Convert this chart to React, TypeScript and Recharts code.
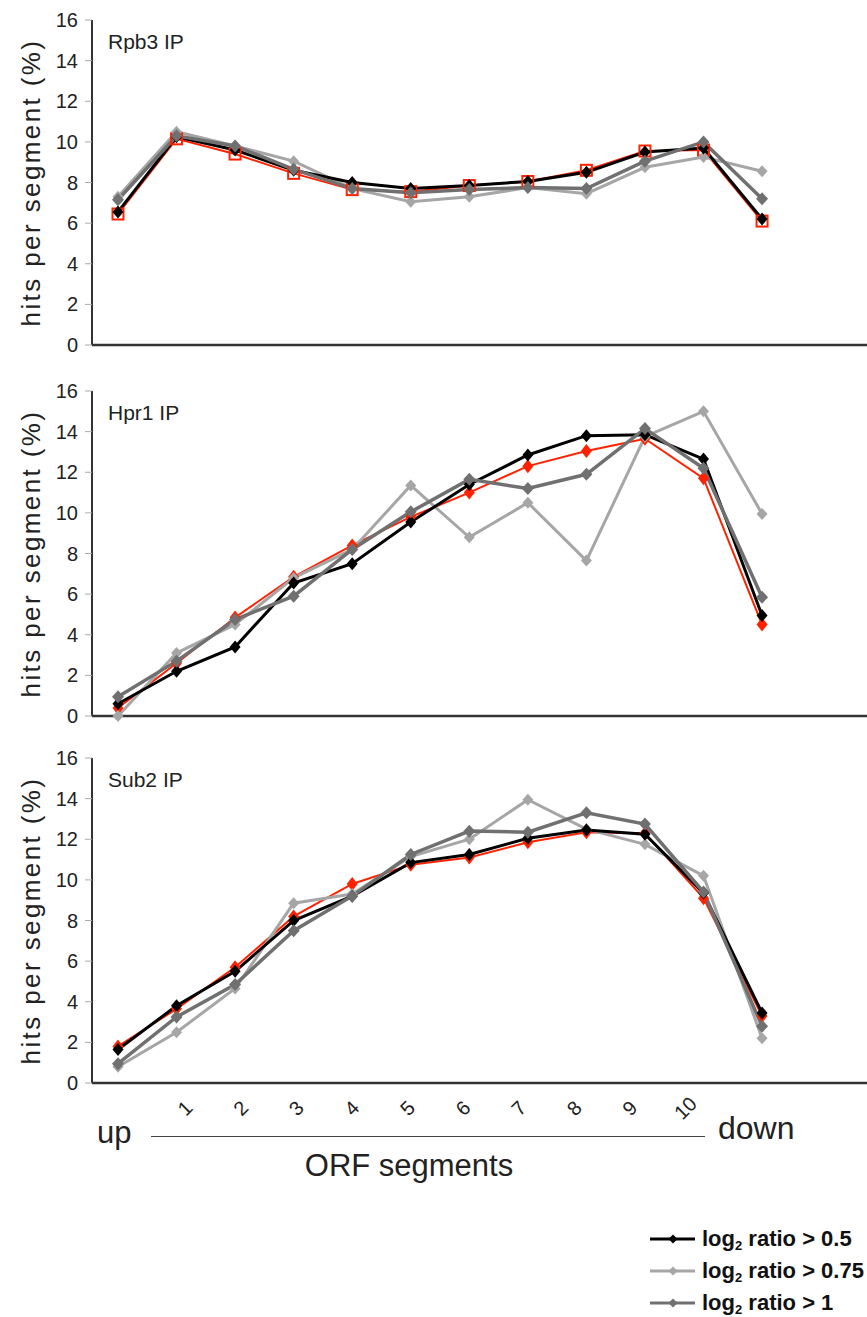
import React from 'react';
import { LineChart, Line, XAxis, YAxis } from 'recharts';

// ---------- data ----------
const segments = ['up', '1', '2', '3', '4', '5', '6', '7', '8', '9', '10', 'down'];
const segmentLabels = [1, 2, 3, 4, 5, 6, 7, 8, 9, 10];
const yTicks = [0, 2, 4, 6, 8, 10, 12, 14, 16];

const rpb3_05 = [6.55, 10.25, 9.6, 8.6, 8.0, 7.7, 7.85, 8.05, 8.5, 9.5, 9.7, 6.2];
const rpb3_075 = [7.3, 10.5, 9.8, 9.05, 7.7, 7.05, 7.3, 7.75, 7.45, 8.75, 9.25, 8.55];
const rpb3_1 = [7.15, 10.3, 9.8, 8.65, 7.7, 7.5, 7.65, 7.75, 7.7, 9.05, 10.0, 7.2];
const rpb3_red = [6.45, 10.15, 9.4, 8.45, 7.65, 7.55, 7.85, 8.05, 8.6, 9.55, 9.6, 6.1];

const hpr1_05 = [0.6, 2.2, 3.4, 6.55, 7.5, 9.55, 11.4, 12.85, 13.8, 13.85, 12.65, 4.95];
const hpr1_075 = [0.0, 3.1, 4.5, 6.8, 8.2, 11.35, 8.8, 10.5, 7.65, 13.75, 15.0, 9.95];
const hpr1_1 = [0.95, 2.7, 4.75, 5.9, 8.2, 10.05, 11.65, 11.2, 11.9, 14.15, 12.2, 5.85];
const hpr1_red = [0.4, 2.6, 4.85, 6.85, 8.4, 9.8, 11.0, 12.3, 13.05, 13.65, 11.7, 4.5];

const sub2_05 = [1.65, 3.8, 5.5, 8.0, 9.2, 10.85, 11.25, 12.05, 12.45, 12.25, 9.35, 3.45];
const sub2_075 = [0.8, 2.5, 4.65, 8.85, 9.3, 11.15, 12.0, 13.95, 12.5, 11.75, 10.2, 2.2];
const sub2_1 = [0.95, 3.25, 4.85, 7.5, 9.2, 11.25, 12.4, 12.35, 13.3, 12.75, 9.4, 2.8];
const sub2_red = [1.8, 3.65, 5.7, 8.2, 9.8, 10.75, 11.1, 11.85, 12.35, 12.3, 9.1, 3.3];

const legendItems = [
  { sub: '0.5', color: '#000000' },
  { sub: '0.75', color: '#a6a6a6' },
  { sub: '1', color: '#707070' },
];

// ---------- layout ----------
const W = 1000;
const X_DOMAIN: [number, number] = [-0.444, 15.064];
const xTicks = Array.from({ length: 12 }, (_, j) => -0.444 + 0.977 * j);
const LABEL_DOMAIN: [number, number] = [-0.673, 15.658];
const FONT = "'Liberation Sans', Arial, Helvetica, sans-serif";

const buildRows = (a: number[], b: number[], c: number[], r: number[]) =>
  segments.map((s, i) => ({ x: i, seg: s, s05: a[i], s075: b[i], s1: c[i], red: r[i] }));

const labelRows = segmentLabels.map((v) => ({ pos: v }));

const Diamond = (props: any) => {
  const { cx, cy, fill, hw, hh } = props;
  if (cx == null || cy == null) return null;
  return <path d={`M${cx},${cy - hh} L${cx + hw},${cy} L${cx},${cy + hh} L${cx - hw},${cy} Z`} fill={fill} />;
};

const Square = (props: any) => {
  const { cx, cy } = props;
  if (cx == null || cy == null) return null;
  return <rect x={cx - 5.5} y={cy - 5.5} width={11} height={11} fill="none" stroke="#ff2200" strokeWidth={2} />;
};

const RotTick = (props: any) => {
  const { x, payload } = props;
  const ty = 18;
  return (
    <text
      x={x}
      y={ty}
      transform={`rotate(-45 ${x} ${ty})`}
      textAnchor="middle"
      dominantBaseline="central"
      fontSize={20}
      fontFamily={FONT}
      fill="#222"
    >
      {payload.value}
    </text>
  );
};

const YTitle = (props: any) => {
  const vb = props.viewBox || {};
  const cx = 31;
  const cy = (vb.y || 0) + (vb.height || 0) / 2;
  return (
    <text
      x={cx}
      y={cy}
      transform={`rotate(-90 ${cx} ${cy})`}
      textAnchor="middle"
      dominantBaseline="central"
      fontSize={26}
      letterSpacing={2.4}
      fontFamily={FONT}
      fill="#222"
    >
      hits per segment (%)
    </text>
  );
};

type PanelProps = {
  top: number;
  title: string;
  rows: any[];
  redSquares?: boolean;
};

const Panel = ({ top, title, rows, redSquares }: PanelProps) => {
  const height = 355;
  return (
    <div style={{ position: 'absolute', left: 0, top, width: W, height }}>
      <LineChart width={W} height={height} data={rows} margin={{ top: 20, right: 0, bottom: 0, left: 0 }}>
        <XAxis
          xAxisId="top"
          orientation="top"
          type="number"
          dataKey="x"
          domain={X_DOMAIN}
          allowDataOverflow
          height={0}
          tick={false}
          tickLine={false}
          axisLine={{ stroke: '#333', strokeWidth: 2 }}
        />
        <XAxis
          xAxisId="main"
          type="number"
          dataKey="x"
          domain={X_DOMAIN}
          allowDataOverflow
          ticks={xTicks}
          interval={0}
          tick={false}
          tickSize={6}
          tickLine={{ stroke: '#aaa', strokeWidth: 1 }}
          axisLine={{ stroke: '#333', strokeWidth: 2.5 }}
          height={10}
        />
        <YAxis
          type="number"
          domain={[0, 16]}
          ticks={yTicks}
          interval={0}
          width={92}
          tickSize={7}
          tickMargin={7}
          tick={{ fontSize: 20, fill: '#222', fontFamily: FONT }}
          tickLine={{ stroke: '#aaa', strokeWidth: 1 }}
          axisLine={{ stroke: '#333', strokeWidth: 2 }}
          label={<YTitle />}
        />
        <Line
          xAxisId="main"
          dataKey="red"
          stroke="#ff2200"
          strokeWidth={2}
          isAnimationActive={false}
          dot={redSquares ? <Square /> : <Diamond fill="#ff2200" hw={5.5} hh={7} />}
          activeDot={false}
        />
        <Line
          xAxisId="main"
          dataKey="s075"
          stroke="#a6a6a6"
          strokeWidth={3}
          isAnimationActive={false}
          dot={<Diamond fill="#a6a6a6" hw={5.5} hh={6} />}
          activeDot={false}
        />
        <Line
          xAxisId="main"
          dataKey="s05"
          stroke="#000000"
          strokeWidth={3}
          isAnimationActive={false}
          dot={<Diamond fill="#000000" hw={5.5} hh={6.5} />}
          activeDot={false}
        />
        <Line
          xAxisId="main"
          dataKey="s1"
          stroke="#707070"
          strokeWidth={3.5}
          isAnimationActive={false}
          dot={<Diamond fill="#707070" hw={6} hh={6.5} />}
          activeDot={false}
        />
      </LineChart>
      <div
        style={{
          position: 'absolute',
          left: 108,
          top: 30,
          fontSize: 21,
          lineHeight: '24px',
          fontFamily: FONT,
          color: '#222',
        }}
      >
        {title}
      </div>
    </div>
  );
};

// Segment-number axis (1..10) below the bottom panel
const SegmentAxis = ({ top }: { top: number }) => (
  <div style={{ position: 'absolute', left: 0, top, width: W, height: 40 }}>
    <LineChart width={W} height={40} data={labelRows} margin={{ top: 0, right: 0, bottom: 0, left: 92 }}>
      <XAxis
        type="number"
        dataKey="pos"
        domain={LABEL_DOMAIN}
        allowDataOverflow
        ticks={segmentLabels}
        interval={0}
        tick={<RotTick />}
        tickLine={false}
        axisLine={false}
        orientation="top"
        height={40}
      />
    </LineChart>
  </div>
);

const Legend = () => (
  <div style={{ position: 'absolute', left: 650, top: 1223, fontFamily: FONT }}>
    {legendItems.map((it) => (
      <div key={it.sub} style={{ display: 'flex', alignItems: 'center', height: 32 }}>
        <svg width={50} height={16} style={{ display: 'block' }}>
          <line x1={0} y1={8} x2={45} y2={8} stroke={it.color} strokeWidth={3} />
          <path d="M23,3.5 L27.5,8 L23,12.5 L18.5,8 Z" fill={it.color} />
        </svg>
        <span style={{ fontWeight: 'bold', fontSize: 22, lineHeight: '26px', color: '#111', marginLeft: 2, whiteSpace: 'nowrap' }}>
          log<sub style={{ fontSize: 13, lineHeight: '10px', verticalAlign: '-4px' }}>2</sub> ratio &gt; {it.sub}
        </span>
      </div>
    ))}
  </div>
);

export default function App() {
  return (
    <div
      style={{
        position: 'absolute',
        left: 0,
        top: 0,
        width: 867,
        height: 1317,
        overflow: 'hidden',
        background: '#ffffff',
        fontFamily: FONT,
      }}
    >
      <Panel top={0} title="Rpb3 IP" rows={buildRows(rpb3_05, rpb3_075, rpb3_1, rpb3_red)} redSquares />
      <Panel top={371} title="Hpr1 IP" rows={buildRows(hpr1_05, hpr1_075, hpr1_1, hpr1_red)} />
      <Panel top={738} title="Sub2 IP" rows={buildRows(sub2_05, sub2_075, sub2_1, sub2_red)} />
      <SegmentAxis top={1090} />
      <div style={{ position: 'absolute', left: 97, top: 1115, fontSize: 31, lineHeight: '36px', color: '#222' }}>up</div>
      <div style={{ position: 'absolute', left: 151, top: 1136, width: 554, height: 0, borderTop: '1.5px solid #444' }} />
      <div style={{ position: 'absolute', left: 718, top: 1110, fontSize: 32, lineHeight: '36px', color: '#222' }}>down</div>
      <div
        style={{
          position: 'absolute',
          left: 200,
          width: 418,
          top: 1148,
          textAlign: 'center',
          fontSize: 31,
          lineHeight: '36px',
          color: '#222',
        }}
      >
        ORF segments
      </div>
      <Legend />
    </div>
  );
}
